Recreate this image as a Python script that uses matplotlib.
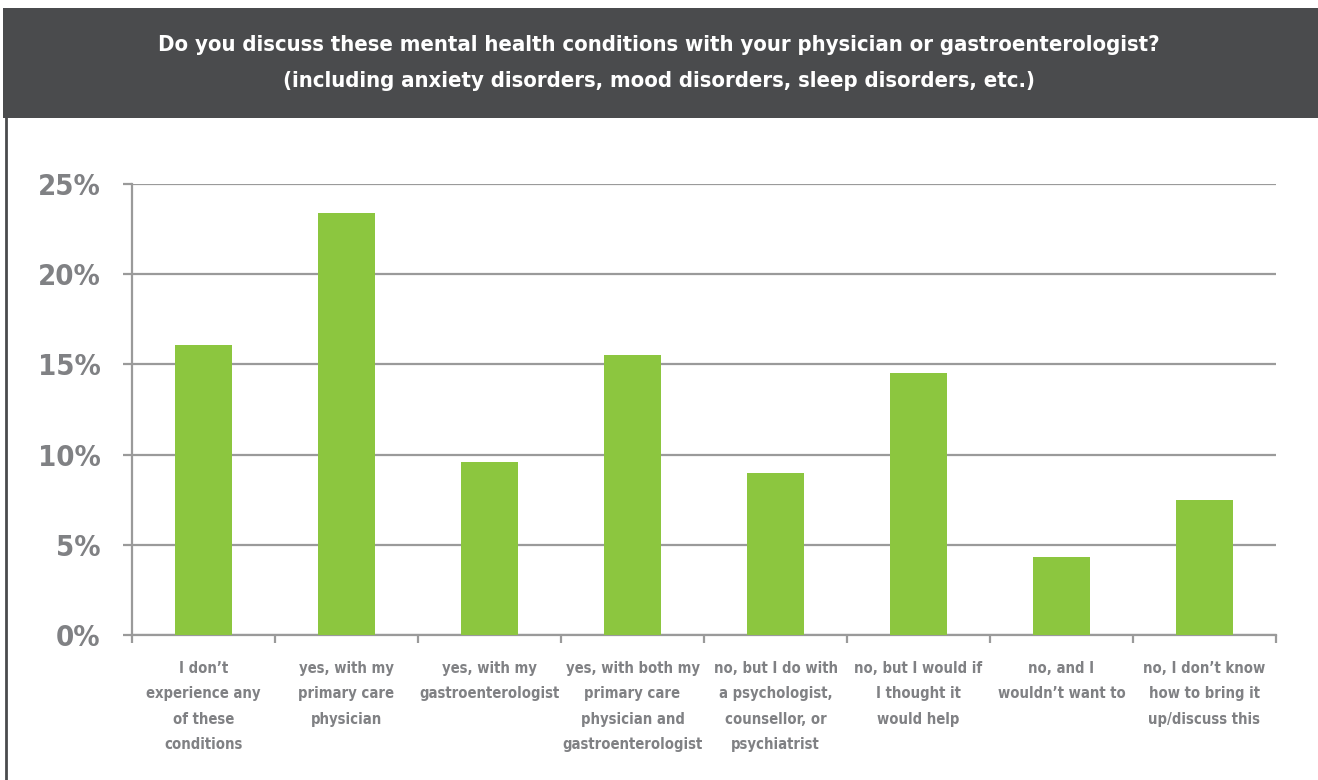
import matplotlib
matplotlib.use("Agg")
import matplotlib.pyplot as plt
from matplotlib.patches import Rectangle
from matplotlib.lines import Line2D

categories = [
    "I don\u2019t\nexperience any\nof these\nconditions",
    "yes, with my\nprimary care\nphysician",
    "yes, with my\ngastroenterologist",
    "yes, with both my\nprimary care\nphysician and\ngastroenterologist",
    "no, but I do with\na psychologist,\ncounsellor, or\npsychiatrist",
    "no, but I would if\nI thought it\nwould help",
    "no, and I\nwouldn\u2019t want to",
    "no, I don\u2019t know\nhow to bring it\nup/discuss this",
]
values = [16.1, 23.4, 9.6, 15.5, 9.0, 14.5, 4.3, 7.5]
y_ticks = [0, 5, 10, 15, 20, 25]
title = ("Do you discuss these mental health conditions with your physician or gastroenterologist?\n"
         "(including anxiety disorders, mood disorders, sleep disorders, etc.)")

FONT = dict(family="DejaVu Sans", fontstretch="condensed", fontweight="bold")
GREEN = "#8cc63f"
GRID = "#9a9a9a"
TEXT = "#808184"
HEADER = "#4a4b4d"

W, H = 1318, 780
fig = plt.figure(figsize=(W / 100, H / 100), dpi=100)
fig.patch.set_facecolor("white")

# header band and left frame line
fig.patches.append(Rectangle((3 / W, 1 - 118 / H), 1 - 3 / W, 110 / H,
                             transform=fig.transFigure, facecolor=HEADER,
                             edgecolor="none", zorder=0))
fig.lines.append(Line2D([5.5 / W, 5.5 / W], [0, 1 - 118 / H],
                        transform=fig.transFigure, color=HEADER, lw=2))
fig.text(0.5, 1 - 63 / H, title, ha="center", va="center", color="white",
         fontsize=15.8, linespacing=2.0, **FONT)

ax = fig.add_axes([132 / W, 1 - 635 / H, (1276 - 132) / W, (635 - 184) / H])
x = list(range(len(categories)))
ax.bar(x, values, width=0.4, color=GREEN, zorder=3)
ax.set_xlim(-0.5, len(categories) - 0.5)
ax.set_ylim(0, 25)

ax.set_yticks(y_ticks)
ax.set_yticklabels([f"{t}%" for t in y_ticks], fontsize=21, color=TEXT, **FONT)
ax.yaxis.grid(True, color=GRID, lw=1.6, zorder=0)
ax.tick_params(axis="y", length=6.5, width=1.6, color=GRID, pad=16)

# category boundary ticks on the x axis
ax.set_xticks([i - 0.5 for i in range(len(categories) + 1)])
ax.set_xticklabels([])
ax.tick_params(axis="x", length=6, width=1.6, color=GRID, direction="out")
for i, lab in enumerate(categories):
    ax.text(i, -1.45, lab, ha="center", va="top", fontsize=10.6, color=TEXT,
            linespacing=1.85, transform=ax.transData, **FONT)

for side in ["top", "right"]:
    ax.spines[side].set_visible(False)
for side in ["left", "bottom"]:
    ax.spines[side].set_color(GRID)
    ax.spines[side].set_linewidth(1.6)

fig.savefig("out.png", dpi=100)
